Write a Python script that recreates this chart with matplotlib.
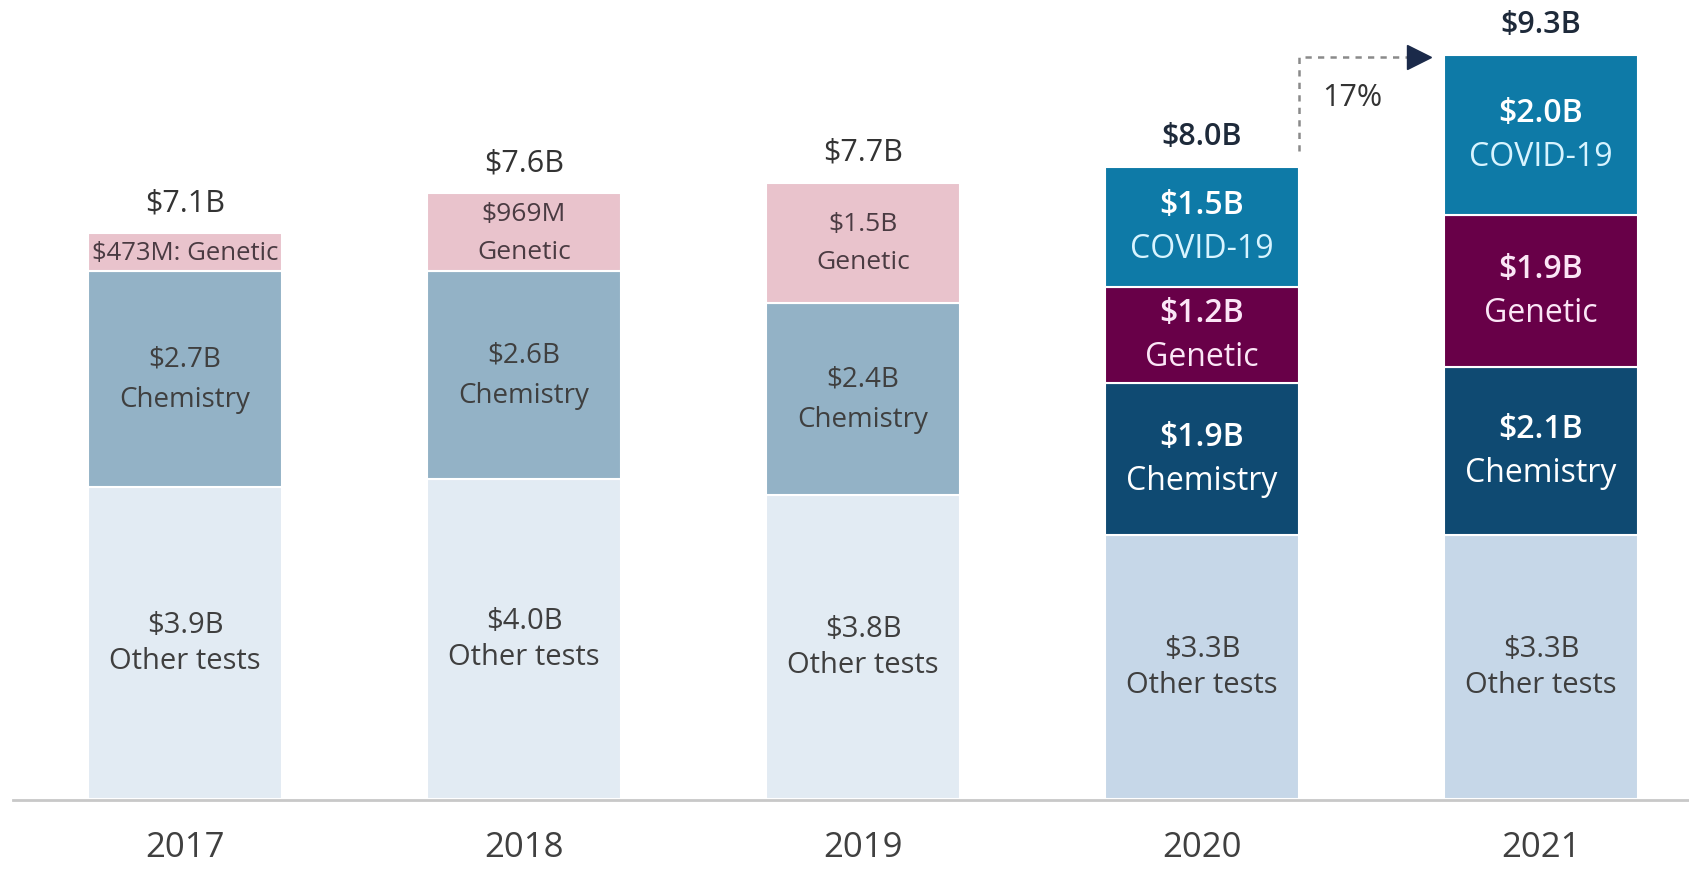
import matplotlib
matplotlib.use("Agg")
import matplotlib.pyplot as plt

plt.rcParams['font.family'] = ['Open Sans', 'DejaVu Sans']

years = ['2017', '2018', '2019', '2020', '2021']
other = [3.9, 4.0, 3.8, 3.3, 3.3]
chemistry = [2.7, 2.6, 2.4, 1.9, 2.1]
genetic = [0.473, 0.969, 1.5, 1.2, 1.9]
covid = [0.0, 0.0, 0.0, 1.5, 2.0]
totals = ['$7.1B', '$7.6B', '$7.7B', '$8.0B', '$9.3B']
other_lbl = ['$3.9B', '$4.0B', '$3.8B', '$3.3B', '$3.3B']
chem_lbl = ['$2.7B', '$2.6B', '$2.4B', '$1.9B', '$2.1B']
gen_lbl = ['$473M: Genetic', '$969M', '$1.5B', '$1.2B', '$1.9B']
covid_lbl = ['', '', '', '$1.5B', '$2.0B']
growth = '17%'

other_c = ['#e2ebf3'] * 3 + ['#c6d7e8'] * 2
chem_c = ['#93b2c6'] * 3 + ['#0f4a72'] * 2
gen_c = ['#e9c3cc'] * 3 + ['#680048'] * 2
covid_c = '#0e7aa7'

fig = plt.figure(figsize=(16.9, 8.7), dpi=100)
ax = fig.add_axes([0, 70 / 870, 1, 800 / 870])
ax.set_xlim(-185 / 339, (1690 - 185) / 339)
ax.set_ylim(0, 10)
ax.axis('off')

x = list(range(len(years)))
w = 0.572
ax.axhline(-0.015, xmin=13 / 1690, xmax=1, color='#c8c8c8', lw=2, zorder=1, clip_on=False)

ax.bar(x, other, w, color=other_c, edgecolor='white', lw=1.5, zorder=2)
bot1 = other
ax.bar(x, chemistry, w, bottom=bot1, color=chem_c, edgecolor='white', lw=1.5, zorder=2)
bot2 = [a + b for a, b in zip(bot1, chemistry)]
ax.bar(x, genetic, w, bottom=bot2, color=gen_c, edgecolor='white', lw=1.5, zorder=2)
bot3 = [a + b for a, b in zip(bot2, genetic)]
ax.bar(x[3:], covid[3:], w, bottom=bot3[3:], color=covid_c, edgecolor='white', lw=1.5, zorder=2)
tops = [a + b for a, b in zip(bot3, covid)]

dark = '#3f3f3f'

def two_line(xi, yc, top, bottom, size, color, bold_top=False, gap=18, color2=None):
    ax.annotate(top, (xi, yc), xytext=(0, gap), textcoords='offset pixels', ha='center', va='center',
                fontsize=size, color=color, fontweight='semibold' if bold_top else 'normal', parse_math=False)
    ax.annotate(bottom, (xi, yc), xytext=(0, -gap), textcoords='offset pixels', ha='center', va='center',
                fontsize=size, color=color2 or color, parse_math=False)

for i in x:
    big = i >= 3
    yc = other[i] / 2
    two_line(i, yc, other_lbl[i], 'Other tests', 21, dark, gap=18)
    yc = bot1[i] + chemistry[i] / 2
    if big:
        two_line(i, yc, chem_lbl[i], 'Chemistry', 23, 'white', bold_top=True, gap=22)
    else:
        two_line(i, yc, chem_lbl[i], 'Chemistry', 20, dark, gap=20)
    yc = bot2[i] + genetic[i] / 2
    if i == 0:
        ax.text(i, yc, gen_lbl[i], ha='center', va='center', fontsize=18.5, color='#4a3b42', parse_math=False)
    elif big:
        two_line(i, yc, gen_lbl[i], 'Genetic', 23, '#fbe6f6', bold_top=True, gap=22)
    else:
        two_line(i, yc, gen_lbl[i], 'Genetic', 19, '#4a3b42', gap=19)
    if big:
        yc = bot3[i] + covid[i] / 2
        two_line(i, yc, covid_lbl[i], 'COVID-19', 23, '#ffffff', bold_top=True, gap=22, color2='#d8f4ff')
    ax.annotate(totals[i], (i, tops[i]), xytext=(0, 31), textcoords='offset pixels', ha='center',
                va='center', fontsize=22, color='#333333' if not big else '#1e2a3a',
                fontweight='semibold' if big else 'normal', parse_math=False)
    ax.text(i, -0.6, years[i], ha='center', va='center', fontsize=25, color='#404040')

# growth arrow
xa = 3 + w / 2
y_top = tops[4] - 0.02
ax.plot([xa, xa, 3.62], [tops[3] + 0.2, y_top, y_top], ls=(0, (2.5, 2.5)), color='#8a8a8a', lw=1.8, zorder=3)
ax.plot([3.64], [y_top], marker='>', markersize=17, color='#1b2a4a', zorder=4)
ax.text((xa + 3.62) / 2 - 0.01, y_top - 0.5, growth, ha='center', va='center', fontsize=22, color='#333333')

fig.savefig('out.png', dpi=100)
